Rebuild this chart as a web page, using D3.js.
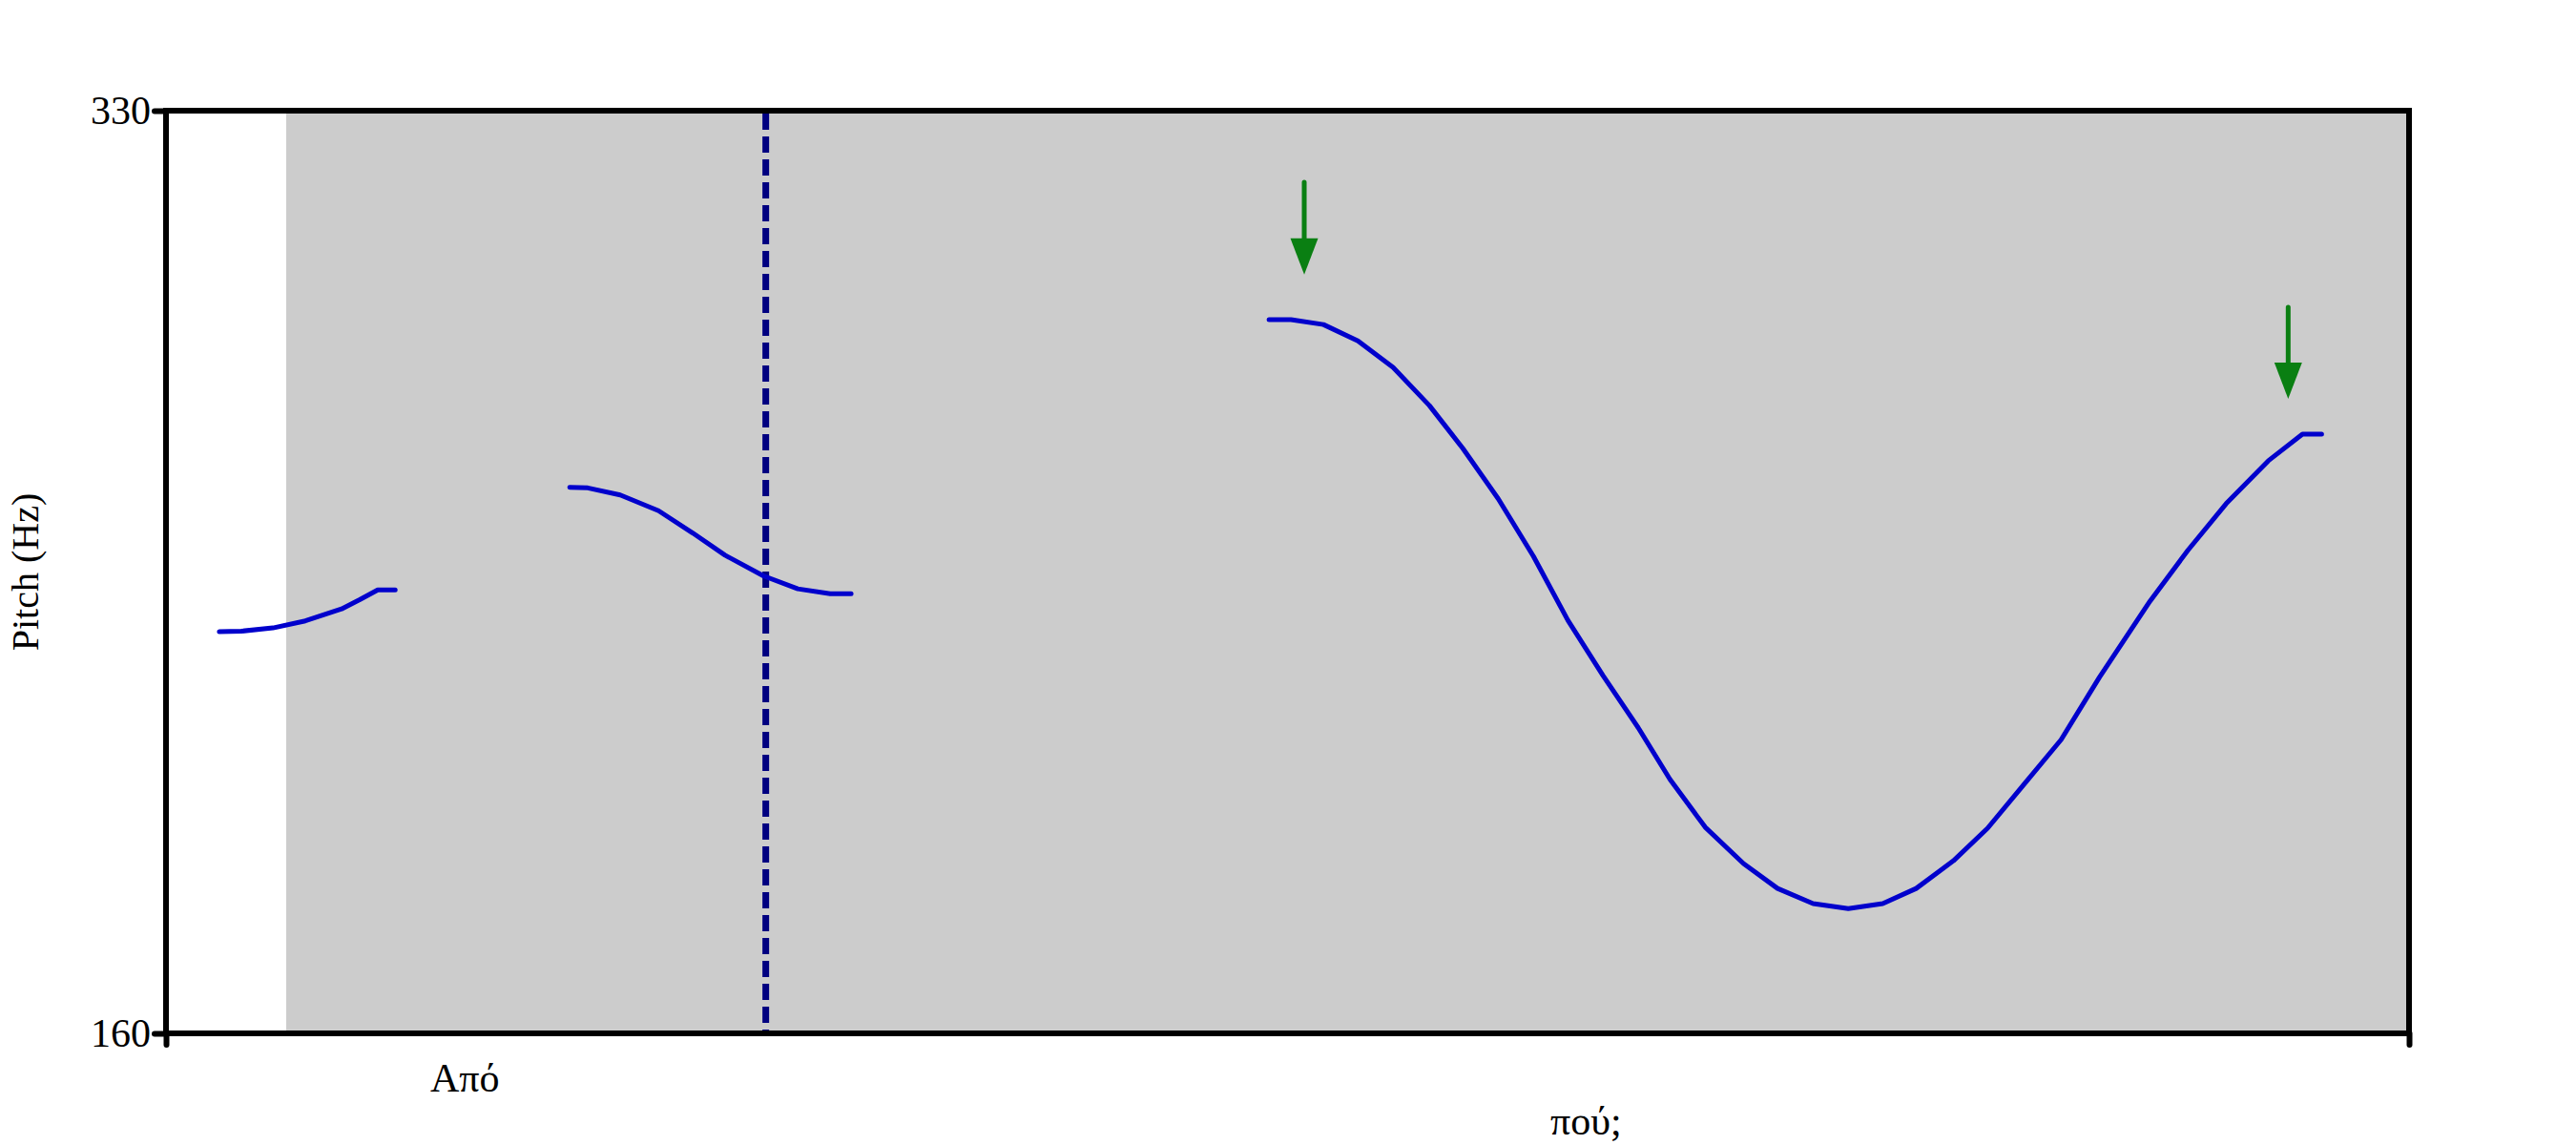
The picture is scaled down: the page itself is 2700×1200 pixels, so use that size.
<!DOCTYPE html>
<html>
<head>
<meta charset="utf-8">
<script src="https://cdn.jsdelivr.net/npm/d3@7"></script>
<style>
  html, body { margin: 0; padding: 0; background: #ffffff; }
  svg { display: block; }
  text { font-family: "Liberation Serif", "DejaVu Serif", serif; fill: #000; }
</style>
</head>
<body>
<svg id="chart" width="2700" height="1200"></svg>
<script>
// ---- data (time in s, pitch in Hz) ----
const timeDomain = [0, 0.644];
const pitchDomain = [160, 330];
const yTickValues = [160, 330];
const xTickValues = [0, 0.644];

const seg1Time = [0.0153, 0.0216, 0.0307, 0.0400, 0.0504, 0.0556, 0.0608, 0.0658];
const seg1Hz   = [234.0, 234.1, 234.7, 236.0, 238.2, 239.9, 241.7, 241.7];

const seg2Time = [0.1159, 0.1211, 0.1304, 0.1414, 0.1512, 0.1605, 0.1715, 0.1814, 0.1907, 0.1967];
const seg2Hz   = [260.6, 260.5, 259.2, 256.3, 252.2, 248.1, 244.3, 241.9, 241.0, 241.0];

const seg3Time = [0.3167, 0.3230, 0.3323, 0.3422, 0.3523, 0.3627, 0.3723, 0.3825, 0.3926, 0.4025,
                  0.4126, 0.4227, 0.4318, 0.4419, 0.4529, 0.4627, 0.4729, 0.4830, 0.4929, 0.5025,
                  0.5132, 0.5230, 0.5332, 0.5441, 0.5551, 0.5696, 0.5805, 0.5915, 0.6036, 0.6134, 0.6189];
const seg3Hz   = [291.5, 291.5, 290.6, 287.6, 282.7, 275.7, 267.8, 258.5, 247.9, 236.1,
                  225.9, 216.3, 206.8, 198.0, 191.3, 186.7, 183.9, 183.0, 183.9, 186.7,
                  191.8, 197.8, 205.7, 214.1, 225.6, 239.6, 249.0, 257.6, 265.5, 270.4, 270.4];

const shadeInterval = [0.0345, 0.644];
const boundaryTime = 0.1722;

const wordLabels = ["Από", "πού;"];
const wordTimes  = [0.0858, 0.4077];
const wordRows   = [0, 1];

const arrowTimes  = [0.3268, 0.6093];
const arrowTopHz  = [316.8, 293.8];
const arrowTipHz  = [299.8, 276.9];

const yAxisTitle = "Pitch (Hz)";

// ---- layout ----
const plot = { left: 174, right: 2525, top: 116, bottom: 1083 };
const svg = d3.select("#chart");

const x = d3.scaleLinear().domain(timeDomain).range([plot.left, plot.right]);
const y = d3.scaleLinear().domain(pitchDomain).range([plot.bottom, plot.top]);

// shaded region
svg.append("rect")
  .attr("x", x(shadeInterval[0]))
  .attr("y", y(pitchDomain[1]))
  .attr("width", x(shadeInterval[1]) - x(shadeInterval[0]))
  .attr("height", y(pitchDomain[0]) - y(pitchDomain[1]))
  .attr("fill", "#cccccc");

// boundary dashed line
svg.append("line")
  .attr("x1", x(boundaryTime)).attr("x2", x(boundaryTime))
  .attr("y1", y(pitchDomain[1]) + 3).attr("y2", y(pitchDomain[0]))
  .attr("stroke", "#000080")
  .attr("stroke-width", 7)
  .attr("stroke-dasharray", "17,7");

// pitch segments
const line = d3.line().x(d => x(d[0])).y(d => y(d[1]));
const segs = [
  d3.zip(seg1Time, seg1Hz),
  d3.zip(seg2Time, seg2Hz),
  d3.zip(seg3Time, seg3Hz)
];
svg.selectAll("path.pitch").data(segs).enter().append("path")
  .attr("class", "pitch")
  .attr("d", line)
  .attr("fill", "none")
  .attr("stroke", "#0000cc")
  .attr("stroke-width", 5)
  .attr("stroke-linejoin", "round")
  .attr("stroke-linecap", "round");

// arrows
const headH = 38, headW = 29;
arrowTimes.forEach((t, i) => {
  const ax = x(t), yTop = y(arrowTopHz[i]), yTip = y(arrowTipHz[i]);
  svg.append("line")
    .attr("x1", ax).attr("x2", ax)
    .attr("y1", yTop).attr("y2", yTip - headH + 2)
    .attr("stroke", "#0a7f12").attr("stroke-width", 5).attr("stroke-linecap", "round");
  svg.append("path")
    .attr("d", `M${ax - headW / 2},${yTip - headH} L${ax + headW / 2},${yTip - headH} L${ax},${yTip} Z`)
    .attr("fill", "#0a7f12");
});

// frame
svg.append("rect")
  .attr("x", plot.left).attr("y", plot.top)
  .attr("width", plot.right - plot.left).attr("height", plot.bottom - plot.top)
  .attr("fill", "none").attr("stroke", "#000").attr("stroke-width", 6);

// y axis
const yAxis = d3.axisLeft(y).tickValues(yTickValues).tickSize(12).tickPadding(4).tickFormat(d3.format("d"));
const gy = svg.append("g").attr("transform", `translate(${plot.left},0)`).call(yAxis);
gy.select(".domain").remove();
gy.selectAll(".tick line").attr("stroke", "#000").attr("stroke-width", 6).attr("stroke-linecap", "round");
gy.selectAll(".tick text")
  .style("font-family", "'Liberation Serif', serif")
  .style("font-size", "42px")
  .attr("fill", "#000");

// x axis (end ticks only)
const xAxis = d3.axisBottom(x).tickValues(xTickValues).tickSize(12).tickFormat("");
const gx = svg.append("g").attr("transform", `translate(0,${plot.bottom})`).call(xAxis);
gx.select(".domain").remove();
gx.selectAll(".tick line").attr("stroke", "#000").attr("stroke-width", 6).attr("stroke-linecap", "round");

// word labels (baseline positioned)
svg.selectAll("text.word").data(wordLabels).enter().append("text")
  .attr("class", "word")
  .attr("x", (d, i) => x(wordTimes[i]))
  .attr("y", (d, i) => 1144 + wordRows[i] * 45)
  .attr("text-anchor", "middle")
  .style("font-size", "42px")
  .text(d => d);

// y axis title
svg.append("text")
  .attr("transform", `translate(26,${(plot.top + plot.bottom) / 2}) rotate(-90)`)
  .attr("text-anchor", "middle")
  .attr("dominant-baseline", "central")
  .style("font-size", "40px")
  .text(yAxisTitle);
</script>
</body>
</html>
